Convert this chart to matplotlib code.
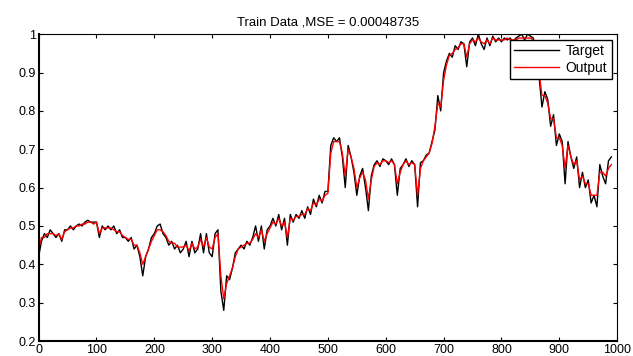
#importing dependencies
import numpy as np
import matplotlib
matplotlib.use("Agg")
import matplotlib.pyplot as plt

plt.rcParams['font.family'] = ['Liberation Sans', 'DejaVu Sans']

#Sample index (every 5th sample)
x = np.arange(0, 991, 5)

#Target series
target = [
    0.42, 0.46, 0.48, 0.47, 0.49, 0.48, 0.47, 0.48, 0.46, 0.49,
    0.49, 0.50, 0.49, 0.50, 0.505, 0.50, 0.51, 0.515, 0.51, 0.51,
    0.51, 0.47, 0.50, 0.49, 0.50, 0.49, 0.50, 0.48, 0.49, 0.47,
    0.47, 0.46, 0.47, 0.44, 0.45, 0.42, 0.37, 0.42, 0.44, 0.47,
    0.48, 0.50, 0.505, 0.48, 0.47, 0.45, 0.46, 0.44, 0.45, 0.43,
    0.44, 0.46, 0.42, 0.46, 0.43, 0.44, 0.48, 0.43, 0.48, 0.43,
    0.42, 0.48, 0.49, 0.33, 0.28, 0.37, 0.36, 0.39, 0.43, 0.44,
    0.45, 0.44, 0.46, 0.45, 0.47, 0.50, 0.46, 0.50, 0.44, 0.49,
    0.50, 0.52, 0.50, 0.53, 0.49, 0.52, 0.45, 0.53, 0.51, 0.53,
    0.52, 0.54, 0.52, 0.55, 0.53, 0.57, 0.55, 0.58, 0.56, 0.59,
    0.59, 0.71, 0.73, 0.72, 0.73, 0.68, 0.60, 0.71, 0.68, 0.64,
    0.58, 0.63, 0.65, 0.60, 0.54, 0.63, 0.66, 0.67, 0.655, 0.675,
    0.67, 0.66, 0.675, 0.66, 0.58, 0.65, 0.66, 0.675, 0.655, 0.67,
    0.66, 0.55, 0.665, 0.67, 0.685, 0.69, 0.72, 0.75, 0.84, 0.80,
    0.90, 0.93, 0.95, 0.94, 0.97, 0.96, 0.98, 0.975, 0.915, 0.98,
    0.99, 0.97, 1.00, 0.975, 0.96, 0.99, 0.97, 0.995, 0.98, 0.99,
    0.98, 0.99, 0.985, 0.99, 0.98, 0.99, 0.995, 1.00, 0.985, 1.00,
    0.995, 0.99, 0.95, 0.89, 0.81, 0.85, 0.83, 0.76, 0.79, 0.71,
    0.74, 0.72, 0.61, 0.72, 0.68, 0.65, 0.68, 0.60, 0.64, 0.60,
    0.62, 0.56, 0.58, 0.55, 0.66, 0.63, 0.61, 0.67, 0.68,
]

#Network output series
output = [
    0.44, 0.47, 0.47, 0.48, 0.48, 0.48, 0.475, 0.48, 0.465, 0.485,
    0.49, 0.495, 0.495, 0.50, 0.50, 0.505, 0.505, 0.51, 0.51, 0.505,
    0.51, 0.48, 0.495, 0.495, 0.495, 0.495, 0.49, 0.485, 0.485, 0.475,
    0.47, 0.465, 0.465, 0.45, 0.45, 0.43, 0.40, 0.42, 0.44, 0.46,
    0.475, 0.49, 0.49, 0.485, 0.475, 0.46, 0.455, 0.455, 0.445, 0.445,
    0.445, 0.45, 0.435, 0.455, 0.44, 0.445, 0.465, 0.445, 0.47, 0.445,
    0.44, 0.47, 0.48, 0.37, 0.31, 0.35, 0.37, 0.39, 0.42, 0.44,
    0.445, 0.45, 0.455, 0.455, 0.465, 0.48, 0.47, 0.49, 0.46, 0.48,
    0.495, 0.51, 0.505, 0.52, 0.50, 0.51, 0.47, 0.52, 0.515, 0.525,
    0.525, 0.53, 0.53, 0.545, 0.54, 0.56, 0.555, 0.57, 0.565, 0.58,
    0.585, 0.69, 0.72, 0.72, 0.72, 0.69, 0.63, 0.70, 0.68, 0.65,
    0.60, 0.625, 0.64, 0.62, 0.57, 0.62, 0.655, 0.665, 0.66, 0.67,
    0.67, 0.665, 0.67, 0.66, 0.61, 0.64, 0.66, 0.67, 0.66, 0.665,
    0.66, 0.58, 0.65, 0.67, 0.68, 0.69, 0.715, 0.76, 0.82, 0.81,
    0.88, 0.92, 0.945, 0.95, 0.96, 0.965, 0.975, 0.975, 0.94, 0.975,
    0.985, 0.98, 0.99, 0.98, 0.975, 0.985, 0.975, 0.99, 0.985, 0.985,
    0.985, 0.985, 0.99, 0.985, 0.985, 0.985, 0.99, 0.99, 0.99, 0.99,
    0.99, 0.985, 0.96, 0.90, 0.84, 0.84, 0.82, 0.78, 0.78, 0.73,
    0.73, 0.71, 0.65, 0.71, 0.68, 0.66, 0.67, 0.62, 0.63, 0.61,
    0.61, 0.58, 0.58, 0.58, 0.64, 0.64, 0.63, 0.65, 0.66,
]

x_ticks = [0, 100, 200, 300, 400, 500, 600, 700, 800, 900, 1000]
y_ticks = [0.2, 0.3, 0.4, 0.5, 0.6, 0.7, 0.8, 0.9, 1.0]
y_labels = ['0.2', '0.3', '0.4', '0.5', '0.6', '0.7', '0.8', '0.9', '1']

#Plotting the result
fig = plt.figure(figsize=(6.33, 3.56), dpi=100)
ax = fig.add_axes([0.061, 0.042, 0.914, 0.862])

ax.plot(x, target, color='black', linewidth=1.0, label='Target')
ax.plot(x, output, color='red', linewidth=1.0, label='Output')

ax.set_xlim(0, 1000)
ax.set_ylim(0.2, 1.0)
ax.set_xticks(x_ticks)
ax.set_yticks(y_ticks)
ax.set_yticklabels(y_labels)
ax.tick_params(direction='in', top=True, right=True, length=3, width=0.8,
               labelsize=9, pad=2)
for side in ['left', 'bottom']:
    ax.spines[side].set_linewidth(1.5)
for side in ['top', 'right']:
    ax.spines[side].set_linewidth(0.8)

ax.set_title('Train Data ,MSE = 0.00048735', fontsize=9.5, pad=6.5)

leg = ax.legend(loc='upper right', fontsize=10, fancybox=False, shadow=False,
                framealpha=1, edgecolor='black', handlelength=3.2,
                borderaxespad=0.4, borderpad=0.3, labelspacing=0.2,
                handletextpad=0.5)
leg.get_frame().set_linewidth(1.0)

fig.savefig('out.png', dpi=100)
